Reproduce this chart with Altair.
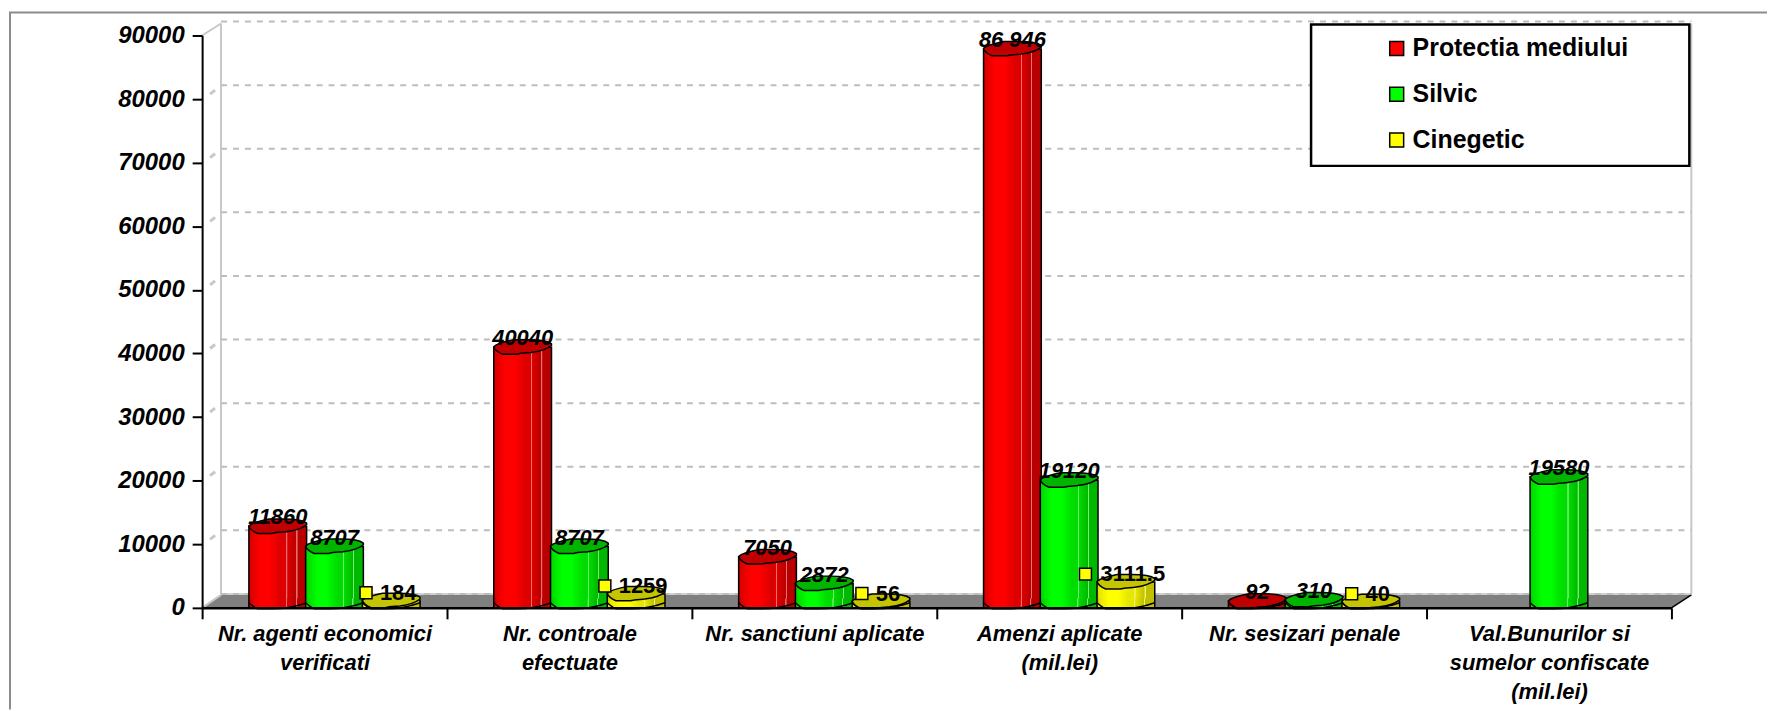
import altair as alt
import pandas as pd

categories = ["Nr. agenti economici|verificati", "Nr. controale|efectuate", "Nr. sanctiuni  aplicate",
              "Amenzi aplicate|(mil.lei)", "Nr. sesizari penale", "Val.Bunurilor si|sumelor confiscate|(mil.lei)"]
series_names = ["Protectia mediului", "Silvic", "Cinegetic"]
protectia = [11860, 40040, 7050, 86946, 92, None]
silvic = [8707, 8707, 2872, 19120, 310, 19580]
cinegetic = [184, 1259, 56, 3111.5, 40, None]
labels_protectia = ["11860", "40040", "7050", "86 946", "92", ""]
labels_silvic = ["8707", "8707", "2872", "19120", "310", "19580"]
labels_cinegetic = ["184", "1259", "56", "3111.5", "40", ""]
y_ticks = [0, 10000, 20000, 30000, 40000, 50000, 60000, 70000, 80000, 90000]

FONT = "Liberation Sans"
W, H = 1476, 575

rows = []
for name, vals, labs in [(series_names[0], protectia, labels_protectia),
                         (series_names[1], silvic, labels_silvic),
                         (series_names[2], cinegetic, labels_cinegetic)]:
    for c, v, l in zip(categories, vals, labs):
        if v is not None:
            rows.append({"cat": c, "series": name, "value": v, "label": l})
df = pd.DataFrame(rows)
ticks_df = pd.DataFrame({"v": y_ticks})
one = pd.DataFrame({"a": [0]})

x_axis = alt.Axis(
    labelExpr="split(datum.label, '|')", labelAngle=0, labelFont=FONT, labelFontWeight="bold",
    labelFontStyle="italic", labelFontSize=22, labelColor="#000000", labelLineHeight=29, labelPadding=5,
    labelLimit=400, labelOverlap=False, labelBound=False, tickBand="extent", tickSize=11, tickWidth=2,
    tickColor="#000000", domainColor="#000000", domainWidth=2.5, grid=False, zindex=2, title=None)
y_axis = alt.Axis(
    values=y_ticks, format="d", labelFont=FONT, labelFontWeight="bold", labelFontStyle="italic", labelFontSize=24,
    labelColor="#000000", labelPadding=8, tickSize=10, tickWidth=2, tickColor="#000000", domainColor="#000000",
    domainWidth=2, grid=False, zindex=2, title=None)

x_scale = alt.Scale(domain=categories, paddingInner=0, paddingOuter=0)
y_scale = alt.Scale(domain=[0, 90000], nice=False)
off_scale = alt.Scale(domain=series_names, paddingInner=0, paddingOuter=0.658, align=0.633)
X = alt.X("cat:N", scale=x_scale, axis=x_axis)
XO = alt.XOffset("series:N", scale=off_scale)
Y = alt.Y("value:Q", scale=y_scale, axis=y_axis)


def deco(path, **kw):
    return alt.Chart(one).mark_point(shape=path, size=4, opacity=1, **kw).encode(
        x=alt.value(0), y=alt.value(0))


def grad(stops):
    return alt.LinearGradient(gradient="linear", x1=0, x2=1, y1=0, y2=0,
                              stops=[alt.GradientStop(offset=o, color=c) for o, c in stops])


def shades(bright, mid, dark, light):
    return [(0, dark), (0.03, mid), (0.2, bright), (0.36, bright), (0.55, mid), (0.645, mid),
            (0.65, light), (0.665, light), (0.67, mid), (0.82, dark), (0.825, light), (0.84, light),
            (0.845, dark), (1, dark)]


palette = {
    series_names[0]: dict(g=shades("#ff0000", "#dc0000", "#b80000", "#f07070"), top="#c00000", key="#ff0000"),
    series_names[1]: dict(g=shades("#00ff00", "#00dc00", "#00b800", "#70f070"), top="#00b400", key="#00ff00"),
    series_names[2]: dict(g=shades("#ffff00", "#e6e600", "#c0c000", "#f0f070"), top="#c4c400", key="#ffff00"),
}

TOP = ("M-1,-.02 C-.96,.12 -.8,.2 -.7,.24 L-.2,.24 C-.05,.2 .1,.2 .3,.18 C.6,.14 .85,.06 1,-.06 "
       "L1,-.12 C.9,-.2 .6,-.26 .2,-.26 L-.3,-.26 C-.6,-.2 -.9,-.12 -1,-.02 Z")
BASE_FILL = "M-.96,-.12 L.96,-.12 L.96,.03 C.7,.14 .2,.24 -.2,.24 L-.7,.24 C-.8,.2 -.9,.1 -.96,.03 Z"
BASE_LINE = "M-1,.03 C-.9,.12 -.8,.2 -.7,.24 L-.2,.24 C.2,.24 .7,.14 1,.03"

layers = []
# outer frame
layers.append(deco("M-193,677 L-193,-23 L1572,-23", filled=False, stroke="#8c8c8c", strokeWidth=2))
# floor and walls
layers.append(deco(f"M0,{H} L{W},{H} L{W+20},{H-13} L19,{H-13} Z", filled=True, fill="#808080", stroke="#808080", strokeWidth=0.5))
layers.append(deco(f"M19,{H-14} L{W+20},{H-14}", filled=False, stroke="#d0d0d0", strokeWidth=2))
layers.append(deco(f"M19,-12 L19,{H-14} M{W+20},-12 L{W+20},{H-14}", filled=False, stroke="#c8c8c8", strokeWidth=2))
layers.append(deco(f"M0,0 L19,-12 M0,{H} L19,{H-13}", filled=False, stroke="#c8c8c8", strokeWidth=2))
layers.append(deco(f"M{W},{H} L{W+20},{H-13}", filled=False, stroke="#000000", strokeWidth=1.5))
# gridlines
layers.append(alt.Chart(ticks_df).mark_rule(color="#bdbdbd", strokeWidth=2, strokeDash=[6, 6], yOffset=-14).encode(
    y=alt.Y("v:Q", scale=y_scale, axis=y_axis), x=alt.value(19), x2=alt.value(W + 20)))
layers.append(alt.Chart(ticks_df[(ticks_df.v > 0) & (ticks_df.v < 90000)]).mark_point(
    shape="M8,-5 L13,-9", size=4, filled=False, stroke="#c8c8c8", strokeWidth=3, opacity=1).encode(
    y=alt.Y("v:Q", scale=y_scale, axis=y_axis), x=alt.value(0)))
# legend box
layers.append(deco("M1114,-11 L1494,-11 L1494,131 L1114,131 Z", filled=True, fill="#ffffff", stroke="#000000", strokeWidth=2.5))
for name, ly in zip(series_names, [13, 59, 105]):
    layers.append(alt.Chart(one).mark_point(shape="square", size=196, filled=True, fill=palette[name]["key"],
                                            stroke="#000000", strokeWidth=1.5, opacity=1).encode(
        x=alt.value(1200), y=alt.value(ly)))
    layers.append(alt.Chart(one).mark_text(font=FONT, fontWeight="bold", fontSize=25, align="left", baseline="middle",
                                           color="#000000").encode(
        x=alt.value(1216), y=alt.value(ly), text=alt.value(name)))

# bars, one series at a time so later series overlap earlier ones
for name in series_names:
    sdf = df[df.series == name]
    base = alt.Chart(sdf)
    p = palette[name]
    grad_fill = grad(p["g"])
    enc = dict(x=X, xOffset=XO)
    layers.append(base.mark_bar(size=58, fill=grad_fill, stroke="#000000", strokeWidth=1.5, yOffset=-6).encode(
        y=Y, y2=alt.Y2(datum=0), **enc))
    layers.append(base.mark_point(shape=BASE_FILL, size=3364, filled=True, fill=grad_fill, opacity=1,
                                  strokeWidth=0, yOffset=-6).encode(
        y=alt.Y(datum=0, scale=y_scale, axis=y_axis), **enc))
    layers.append(base.mark_point(shape=BASE_LINE, size=3364, filled=False, stroke="#000000", strokeWidth=1.5, opacity=1,
                                  yOffset=-6).encode(
        y=alt.Y(datum=0, scale=y_scale, axis=y_axis), **enc))
    layers.append(base.mark_point(shape=TOP, size=3364, filled=True, fill=p["top"], stroke="#000000", strokeWidth=1.5, opacity=1,
                                  yOffset=-6).encode(y=Y, **enc))

# data labels
red_green = df[df.series != series_names[2]]
yellow = df[df.series == series_names[2]]
layers.append(alt.Chart(red_green).mark_text(font=FONT, fontWeight="bold", fontStyle="italic", fontSize=22, color="#000000",
                                             baseline="middle", yOffset=-15).encode(
    y=Y, text="label:N", x=X, xOffset=XO))
layers.append(alt.Chart(yellow).mark_text(font=FONT, fontWeight="bold", fontSize=22, color="#000000",
                                          baseline="middle", dx=7, yOffset=-14).encode(
    y=Y, text="label:N", x=X, xOffset=XO))
# each key square sits left of its label, so its offset follows the label's length
for lab in yellow["label"]:
    half = sum(6.1 if ch != "." else 3.1 for ch in lab)
    cx = 7 - half - 14
    square = f"M{cx-6},-6 L{cx+6},-6 L{cx+6},6 L{cx-6},6 Z"
    layers.append(alt.Chart(yellow[yellow["label"] == lab]).mark_point(
        shape=square, size=4, filled=True, fill="#ffff00", stroke="#000000", strokeWidth=1.5, opacity=1,
        yOffset=-14).encode(y=Y, x=X, xOffset=XO))

chart = alt.layer(*layers).properties(
    width=W, height=H,
    padding={"left": 195, "top": 26, "right": 96, "bottom": 101},
    autosize=alt.AutoSizeParams(type="none"),
    background="#ffffff",
).configure_view(stroke=None)

chart.save("out.html", embed_options={"renderer": "svg", "actions": False})
